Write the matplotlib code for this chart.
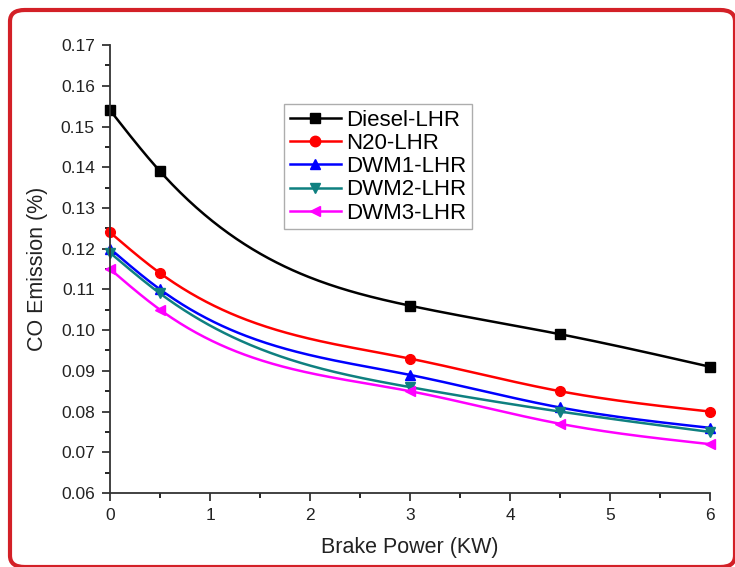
import numpy as np
import matplotlib.pyplot as plt
from matplotlib.patches import FancyBboxPatch
from matplotlib.ticker import MultipleLocator

plt.rcParams['font.family'] = ['Liberation Sans', 'DejaVu Sans']

brake_power = [0, 0.5, 3, 4.5, 6]
diesel_lhr = [0.154, 0.139, 0.106, 0.099, 0.091]
n20_lhr = [0.124, 0.114, 0.093, 0.085, 0.080]
dwm1_lhr = [0.120, 0.110, 0.089, 0.081, 0.076]
dwm2_lhr = [0.119, 0.109, 0.086, 0.080, 0.075]
dwm3_lhr = [0.115, 0.105, 0.085, 0.077, 0.072]

series = [
    ('Diesel-LHR', diesel_lhr, 'black', 's'),
    ('N20-LHR', n20_lhr, '#ff0000', 'o'),
    ('DWM1-LHR', dwm1_lhr, '#0000ff', '^'),
    ('DWM2-LHR', dwm2_lhr, '#0f8080', 'v'),
    ('DWM3-LHR', dwm3_lhr, '#ff00ff', '<'),
]


# natural cubic spline, only used to draw the smooth line through the points
def spline(x, y, xs):
    x = np.asarray(x, float)
    y = np.asarray(y, float)
    n = len(x)
    h = np.diff(x)
    A = np.zeros((n, n))
    b = np.zeros(n)
    A[0, 0] = A[-1, -1] = 1
    for i in range(1, n - 1):
        A[i, i - 1] = h[i - 1]
        A[i, i] = 2 * (h[i - 1] + h[i])
        A[i, i + 1] = h[i]
        b[i] = 6 * ((y[i + 1] - y[i]) / h[i] - (y[i] - y[i - 1]) / h[i - 1])
    M = np.linalg.solve(A, b)
    k = np.clip(np.searchsorted(x, xs) - 1, 0, n - 2)
    t0 = x[k + 1] - xs
    t1 = xs - x[k]
    hk = h[k]
    return (M[k] * t0**3 + M[k + 1] * t1**3) / (6 * hk) \
        + (y[k] / hk - M[k] * hk / 6) * t0 + (y[k + 1] / hk - M[k + 1] * hk / 6) * t1


fig = plt.figure(figsize=(7.35, 5.67), dpi=100)
ax = fig.add_axes([0.1497, 0.1305, 0.8163, 0.79])

xs = np.linspace(brake_power[0], brake_power[-1], 300)
for name, vals, color, mk in series:
    ax.plot(xs, spline(brake_power, vals, xs), color=color, lw=1.8)
    ax.plot(brake_power, vals, color=color, marker=mk, ms=7, lw=0, clip_on=False)
    ax.plot([], [], color=color, marker=mk, ms=7.5, lw=1.8, label=name)

ax.set_xlim(0, 6)
ax.set_ylim(0.06, 0.17)
ax.xaxis.set_major_locator(MultipleLocator(1))
ax.xaxis.set_minor_locator(MultipleLocator(0.5))
ax.yaxis.set_major_locator(MultipleLocator(0.01))
ax.yaxis.set_minor_locator(MultipleLocator(0.005))
ax.yaxis.set_major_formatter(plt.FormatStrFormatter('%.2f'))
ax.tick_params(which='major', direction='out', length=6, width=1.2, pad=5,
               labelsize=12.5, colors='#222222')
ax.tick_params(which='minor', direction='out', length=3.5, width=1.2)
for s in ['top', 'right']:
    ax.spines[s].set_visible(False)
for s in ['left', 'bottom']:
    ax.spines[s].set_linewidth(1.3)
    ax.spines[s].set_color('#333333')

ax.set_xlabel('Brake Power (KW)', fontsize=15.5, color='#222222', labelpad=10)
ax.set_ylabel('CO Emission (%)', fontsize=15.5, color='#222222', labelpad=9)

leg = ax.legend(loc='upper left', bbox_to_anchor=(0.29, 0.868), fontsize=16,
                fancybox=False, edgecolor='#999999', handlelength=2.3,
                borderpad=0.25, labelspacing=0.1, handletextpad=0.25, borderaxespad=0)
leg.get_frame().set_linewidth(1.0)

# red rounded border around the figure
border = FancyBboxPatch((10 / 735, 0.0), 725 / 735, 557 / 567,
                        boxstyle='round,pad=0,rounding_size=0.02',
                        transform=fig.transFigure, fill=False,
                        edgecolor='#d32027', lw=3, clip_on=False)
fig.patches.append(border)

fig.savefig('out.png', dpi=100)
